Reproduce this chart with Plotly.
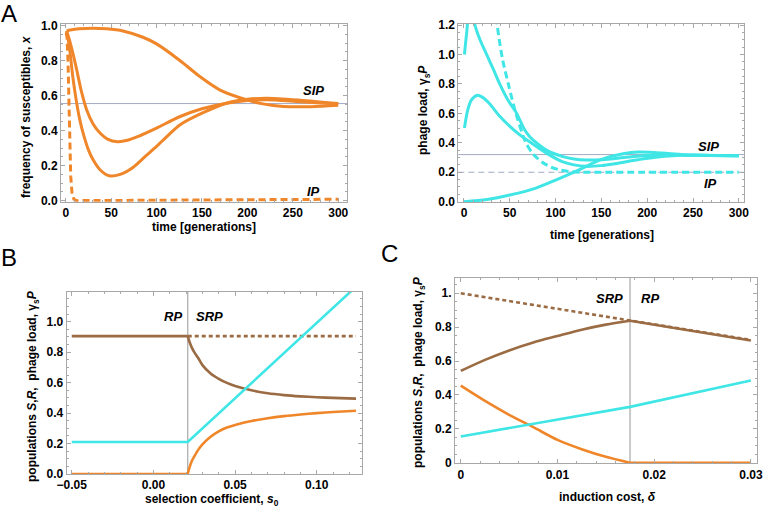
import plotly.graph_objects as go

# ---------- Panel A (left): frequency of susceptibles ----------
tA_top = [1, 5, 15, 30, 45, 63, 85, 100, 126, 148, 170, 200, 217, 240, 270, 300]
xA_top = [0.97, 0.975, 0.982, 0.985, 0.982, 0.97, 0.934, 0.896, 0.80, 0.708, 0.632, 0.575, 0.553, 0.538, 0.537, 0.545]
tA_mid = [1, 4, 8, 12, 17, 23, 30, 38, 46, 57, 68, 80, 100, 126, 150, 177, 200, 221, 258, 300]
xA_mid = [0.97, 0.92, 0.84, 0.75, 0.63, 0.52, 0.44, 0.385, 0.352, 0.337, 0.345, 0.368, 0.415, 0.481, 0.525, 0.557, 0.572, 0.577, 0.566, 0.553]
tA_low = [1, 4, 8, 12, 16, 20, 25, 30, 38, 48, 60, 74, 87, 100, 113, 126, 150, 177, 200, 221, 258, 300]
xA_low = [0.97, 0.88, 0.70, 0.56, 0.45, 0.37, 0.29, 0.235, 0.175, 0.142, 0.15, 0.19, 0.25, 0.31, 0.375, 0.434, 0.5, 0.557, 0.579, 0.585, 0.574, 0.555]
tA_ip = [0.5, 1.5, 2.5, 3.5, 4.5, 5.5, 7, 9, 12, 300]
xA_ip = [0.96, 0.93, 0.8, 0.55, 0.3, 0.14, 0.04, 0.008, 0.0, 0.008]
xA_sip_eq = 0.555

# ---------- Panel A (right): phage load ----------
tP_a = [0.5, 3, 6, 9, 12, 17.5, 24.7, 32, 39, 48, 57.5, 66, 72, 81, 90, 108, 120, 134, 150, 163, 180, 199, 230, 260, 300]
pP_a = [1.0, 1.15, 1.3, 1.3, 1.2, 1.1, 1.0, 0.9, 0.8, 0.69, 0.6, 0.49, 0.44, 0.39, 0.35, 0.306, 0.29, 0.283, 0.285, 0.292, 0.303, 0.313, 0.318, 0.315, 0.312]
tP_b = [0.5, 4, 8, 14, 20, 28, 39, 54, 65, 72, 90, 108, 120, 134, 150, 163, 180, 199, 236, 270, 300]
pP_b = [0.5, 0.62, 0.69, 0.722, 0.71, 0.665, 0.58, 0.49, 0.435, 0.405, 0.33, 0.27, 0.25, 0.24, 0.245, 0.256, 0.275, 0.294, 0.315, 0.314, 0.312]
tP_c = [0, 25, 50, 75, 100, 125, 150, 175, 190, 210, 250, 300]
pP_c = [0.0, 0.015, 0.045, 0.085, 0.147, 0.215, 0.287, 0.327, 0.337, 0.333, 0.317, 0.312]
tP_ip = [30, 36.3, 42, 48.4, 56.7, 67.6, 76, 85, 95, 105, 115, 130, 160, 300]
pP_ip = [1.7, 1.2, 0.97, 0.8, 0.6, 0.4, 0.32, 0.27, 0.235, 0.215, 0.205, 0.2, 0.2, 0.2]
pP_sip_eq = 0.32
pP_ip_eq = 0.2

# ---------- Panel B: selection coefficient ----------
s0_switch = 0.021
sB_flat = [-0.05, 0.021]
sB = [0.021, 0.022, 0.0235, 0.025, 0.0275, 0.03, 0.035, 0.04, 0.045, 0.05, 0.06, 0.07, 0.08, 0.09, 0.10, 0.11, 0.124]
brownB = [0.905, 0.87, 0.83, 0.8, 0.76, 0.715, 0.66, 0.625, 0.598, 0.578, 0.55, 0.53, 0.518, 0.51, 0.504, 0.5, 0.495]
orangeB = [0.0, 0.04, 0.085, 0.115, 0.16, 0.195, 0.245, 0.28, 0.305, 0.322, 0.348, 0.366, 0.38, 0.391, 0.4, 0.407, 0.415]
brownB_flat = [0.905, 0.905]
orangeB_flat = [0.0, 0.0]
sB_cyan = [-0.05, 0.021, 0.124]
cyanB = [0.21, 0.21, 1.23]
sB_dash = [0.021, 0.124]
brownB_dash = [0.905, 0.905]

# ---------- Panel C: induction cost ----------
delta_switch = 0.0175
dC = [0, 0.0025, 0.005, 0.0075, 0.01, 0.0125, 0.015, 0.0175, 0.03]
brownC = [0.542, 0.607, 0.663, 0.71, 0.748, 0.785, 0.815, 0.838, 0.722]
orangeC = [0.455, 0.365, 0.283, 0.21, 0.135, 0.08, 0.035, 0.0, 0.0]
dC_cyan = [0, 0.0175, 0.03]
cyanC = [0.155, 0.33, 0.485]
dC_dash = [0, 0.03]
brownC_dash = [1.0, 0.725]

ORANGE = "#F0862A"
CYAN = "#40E6E6"
BROWN = "#9B6B43"
REF = "#A3AAC4"
FRAME = "#A8A8A8"
FONT = "Liberation Sans, Arial, sans-serif"

fig = go.Figure()


def line(x, y, xa, ya, color, dash="solid", width=2.6, shape="spline"):
    fig.add_trace(go.Scatter(
        x=x, y=y, xaxis=xa, yaxis=ya, mode="lines",
        line=dict(color=color, width=width, dash=dash, shape=shape, smoothing=0.8),
        showlegend=False, hoverinfo="skip",
    ))


# A left
for t, v in [(tA_top, xA_top), (tA_mid, xA_mid), (tA_low, xA_low)]:
    line(t, v, "x", "y", ORANGE, width=3)
line(tA_ip, xA_ip, "x", "y", ORANGE, dash="7px,4px", width=3, shape="linear")

# A right
for t, v in [(tP_a, pP_a), (tP_b, pP_b), (tP_c, pP_c)]:
    line(t, v, "x2", "y2", CYAN, width=3)
line(tP_ip, pP_ip, "x2", "y2", CYAN, dash="7px,4px", width=3)

# B
line(sB_flat, brownB_flat, "x3", "y3", BROWN, shape="linear")
line(sB, brownB, "x3", "y3", BROWN, shape="spline")
line(sB_dash, brownB_dash, "x3", "y3", BROWN, dash="4px,3px", shape="linear")
line(sB_cyan, cyanB, "x3", "y3", CYAN, shape="linear")
line(sB_flat, orangeB_flat, "x3", "y3", ORANGE, shape="linear")
line(sB, orangeB, "x3", "y3", ORANGE, shape="spline")

# C
line(dC_dash, brownC_dash, "x4", "y4", BROWN, dash="4px,3px", shape="linear")
line(dC[:8], brownC[:8], "x4", "y4", BROWN)
line(dC[7:], brownC[7:], "x4", "y4", BROWN, shape="linear")
line(dC[:8], orangeC[:8], "x4", "y4", ORANGE)
line(dC[7:], orangeC[7:], "x4", "y4", ORANGE, shape="linear")
line(dC_cyan, cyanC, "x4", "y4", CYAN, shape="linear")

# reference lines
shapes = [
    dict(type="line", xref="x domain", yref="y", x0=0, x1=1, y0=xA_sip_eq, y1=xA_sip_eq,
         line=dict(color=REF, width=1), layer="below"),
    dict(type="line", xref="x2 domain", yref="y2", x0=0, x1=1, y0=pP_sip_eq, y1=pP_sip_eq,
         line=dict(color=REF, width=1), layer="below"),
    dict(type="line", xref="x2 domain", yref="y2", x0=0, x1=1, y0=pP_ip_eq, y1=pP_ip_eq,
         line=dict(color=REF, width=1, dash="6px,4px"), layer="below"),
    dict(type="line", xref="x3", yref="y3 domain", x0=s0_switch, x1=s0_switch, y0=0, y1=1,
         line=dict(color=FRAME, width=1.2), layer="below"),
    dict(type="line", xref="x4", yref="y4 domain", x0=delta_switch, x1=delta_switch, y0=0, y1=1,
         line=dict(color=FRAME, width=1.2), layer="below"),
]

tickfont = dict(family=FONT, size=12, color="black")


def ax(domain, rng, tickvals, ticktext, minor=None, anchor=None):
    d = dict(
        domain=domain, range=rng, showgrid=False, zeroline=False,
        showline=True, linecolor=FRAME, linewidth=1, mirror="ticks",
        ticks="inside", ticklen=4, tickcolor=FRAME, tickwidth=1,
        tickmode="array", tickvals=tickvals, ticktext=["<b>%s</b>" % s for s in ticktext],
        tickfont=tickfont, anchor=anchor, automargin=False,
    )
    if minor is not None:
        d["minor"] = dict(ticks="inside", ticklen=2, tickcolor=FRAME, dtick=minor, showgrid=False)
    return d


W, H = 764, 516
px = lambda v: v / W
py = lambda v: 1 - v / H

t300 = [0, 50, 100, 150, 200, 250, 300]
fig.update_layout(
    width=W, height=H, margin=dict(l=0, r=0, t=0, b=0),
    plot_bgcolor="white", paper_bgcolor="white", showlegend=False,
    xaxis=ax([px(61), px(347.3)], [-5.2, 310], t300, [str(v) for v in t300], minor=10, anchor="y"),
    yaxis=ax([py(201.7), py(24.3)], [-0.006, 1.008], [0, 0.2, 0.4, 0.6, 0.8, 1.0],
             ["0.0", "0.2", "0.4", "0.6", "0.8", "1.0"], minor=0.05, anchor="x"),
    xaxis2=ax([px(458.3), px(744.3)], [-6.2, 306], t300, [str(v) for v in t300], minor=10, anchor="y2"),
    yaxis2=ax([py(202), py(24)], [-0.002, 1.207], [0, 0.2, 0.4, 0.6, 0.8, 1.0, 1.2],
              ["0.0", "0.2", "0.4", "0.6", "0.8", "1.0", "1.2"], minor=0.05, anchor="x2"),
    xaxis3=ax([px(66.7), px(361.7)], [-0.0531, 0.1275], [-0.05, 0, 0.05, 0.10],
              ["\u22120.05", "0.00", "0.05", "0.10"], minor=0.01, anchor="y3"),
    yaxis3=ax([py(474), py(291.7)], [0, 1.197], [0, 0.2, 0.4, 0.6, 0.8, 1.0],
              ["0.0", "0.2", "0.4", "0.6", "0.8", "1.0"], minor=0.05, anchor="x3"),
    xaxis4=ax([px(455), px(756.7)], [-0.0006, 0.0306], [0, 0.01, 0.02, 0.03],
              ["0", "0.01", "0.02", "0.03"], minor=0.002, anchor="y4"),
    yaxis4=ax([py(463.3), py(277.7)], [-0.003, 1.092], [0, 0.2, 0.4, 0.6, 0.8, 1.0],
              ["0", "0.2", "0.4", "0.6", "0.8", "1."], minor=0.05, anchor="x4"),
    shapes=shapes,
)

lab = dict(family=FONT, size=12, color="black")
big = dict(family=FONT, size=24, color="black")
ital = dict(family=FONT, size=13, color="black")

annots = [
    # panel letters
    dict(text="A", x=px(9), y=py(13.5), font=big),
    dict(text="B", x=px(9), y=py(257), font=big),
    dict(text="C", x=px(389), y=py(253), font=big),
    # axis titles
    dict(text="<b>time [generations]</b>", x=px(204), y=py(227), font=lab),
    dict(text="<b>frequency of susceptibles, <i>x</i></b>", x=px(26), y=py(117), font=lab, textangle=-90),
    dict(text="<b>time [generations]</b>", x=px(602), y=py(235.5), font=lab),
    dict(text="<b>phage load, γ<sub>s</sub><i>P</i></b>", x=px(424), y=py(110), font=lab, textangle=-90),
    dict(text="<b>selection coefficient, <i>s</i><sub>0</sub></b>", x=px(212), y=py(500), font=lab),
    dict(text="<b>populations <i>S</i>,<i>R</i>,  phage load, γ<sub>s</sub><i>P</i></b>", x=px(33), y=py(386),
         font=lab, textangle=-90),
    dict(text="<b>induction cost, <i>δ</i></b>", x=px(607), y=py(497), font=lab),
    dict(text="<b>populations <i>S</i>,<i>R</i>,  phage load, γ<sub>s</sub><i>P</i></b>", x=px(419), y=py(372),
         font=lab, textangle=-90),
]
for a in annots:
    a.update(xref="paper", yref="paper", showarrow=False, xanchor="center", yanchor="middle")

data_labels = [
    dict(text="SIP", x=272.7, y=0.629, xref="x", yref="y"),
    dict(text="IP", x=272.7, y=0.05, xref="x", yref="y"),
    dict(text="SIP", x=266.5, y=0.378, xref="x2", yref="y2"),
    dict(text="IP", x=269, y=0.125, xref="x2", yref="y2"),
    dict(text="RP", x=0.0122, y=1.033, xref="x3", yref="y3"),
    dict(text="SRP", x=0.0342, y=1.033, xref="x3", yref="y3"),
    dict(text="SRP", x=0.0154, y=0.97, xref="x4", yref="y4"),
    dict(text="RP", x=0.0196, y=0.97, xref="x4", yref="y4"),
]
for a in data_labels:
    a.update(text="<b><i>%s</i></b>" % a["text"], showarrow=False, font=ital,
             xanchor="center", yanchor="middle")

fig.update_layout(annotations=annots + data_labels)

fig.write_html("out.html", config={"displayModeBar": False},
               post_script="document.body.style.margin='0';document.body.style.overflow='hidden';")
